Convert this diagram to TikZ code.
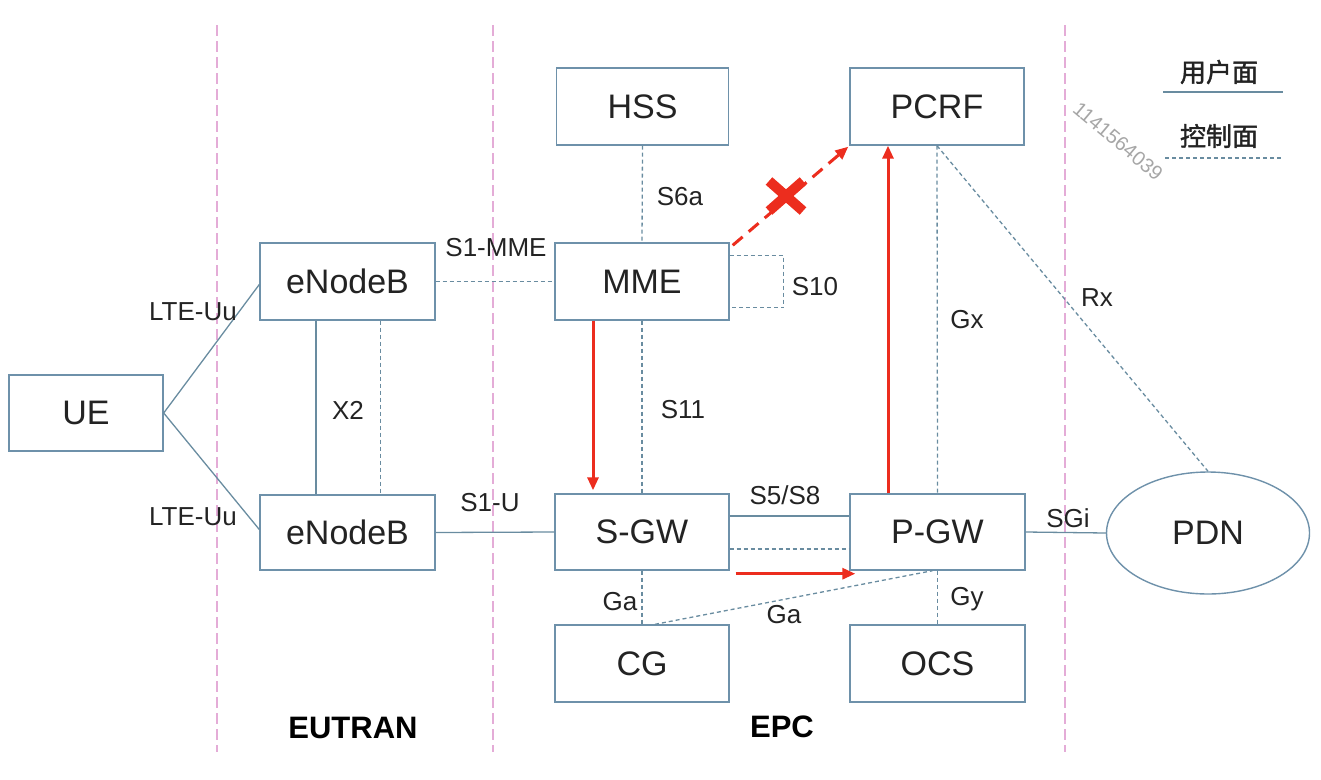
\documentclass[tikz,border=0pt]{standalone}
\usepackage{fontspec}
\setmainfont{Liberation Sans}
\newfontfamily\cjk{Noto Sans CJK SC}[FakeBold=1.5]
\usetikzlibrary{arrows.meta,shapes.geometric}
\definecolor{boxc}{RGB}{110,145,170}
\definecolor{linec}{RGB}{105,140,160}
\definecolor{txtc}{RGB}{35,35,35}
\definecolor{pinkc}{RGB}{228,172,215}
\definecolor{redc}{RGB}{236,45,30}
\tikzset{
  box/.style={draw=boxc, line width=1.4pt, fill=white, inner sep=0pt, text=txtc,
    font=\fontsize{34}{40}\selectfont},
  lbl/.style={text=txtc, inner sep=0pt, font=\fontsize{26}{30}\selectfont},
  upl/.style={draw=linec, line width=1.3pt},
  ctrl/.style={draw=linec, line width=1.3pt, dash pattern=on 4pt off 3pt},
  zone/.style={draw=pinkc, line width=2.6pt, dash pattern=on 11pt off 5pt},
  redarr/.style={draw=redc, line width=3pt, -{Triangle[length=13pt,width=11pt]}},
  reddash/.style={redarr, dash pattern=on 13pt off 8pt},
  xmark/.style={draw=redc, line width=10pt},
  title/.style={text=black, inner sep=0pt, font=\bfseries\fontsize{31}{36}\selectfont},
}
\begin{document}
\begin{tikzpicture}[x=1pt,y=-1pt]
\useasboundingbox (0,0) rectangle (1321,779);
% zone separators
\foreach \n/\x in {za/217,zb/493,zc/1065}{
  \coordinate (\n t) at (\x,25);
  \coordinate (\n b) at (\x,752);
  \draw[zone] (\n t) -- (\n b);
}
% watermark
\node[text=black!35, rotate=-40, font=\fontsize{20}{22}\selectfont, inner sep=0pt] (wm) at (1118,141) {1141564039};
% nodes
\node[box, minimum width=154pt, minimum height=76pt] (ue) at (86,413) {UE};
\node[box, minimum width=175pt, minimum height=77pt] (enb1) at (347.5,281.5) {eNodeB};
\node[box, minimum width=175pt, minimum height=75pt] (enb2) at (347.5,532.5) {eNodeB};
\node[box, minimum width=172pt, minimum height=77pt] (hss) at (642.5,106.5) {HSS};
\node[box, minimum width=174pt, minimum height=77pt] (mme) at (642,281.5) {MME};
\node[box, minimum width=174pt, minimum height=76pt] (sgw) at (642,532) {S-GW};
\node[box, minimum width=174pt, minimum height=77pt] (cg) at (642,663.5) {CG};
\node[box, minimum width=174pt, minimum height=77pt] (pcrf) at (937,106.5) {PCRF};
\node[box, minimum width=175pt, minimum height=76pt] (pgw) at (937.5,532) {P-GW};
\node[box, minimum width=175pt, minimum height=77pt] (ocs) at (937.5,663.5) {OCS};
\node[box, ellipse, minimum width=203pt, minimum height=122pt] (pdn) at (1208,533) {PDN};
% connectors
\draw[upl] (ue.east) -- ([yshift=-3pt]enb1.west);
\draw[upl] (ue.east) -- ([yshift=3pt]enb2.west);
\draw[upl] ([xshift=-31.5pt]enb1.south) -- ([xshift=-31.5pt]enb2.north);
\draw[ctrl] ([xshift=33pt]enb1.south) -- ([xshift=33pt]enb2.north);
\draw[ctrl] (enb1.east) -- (mme.west);
\draw[upl] (enb2.east) -- (sgw.west);
\draw[ctrl] (hss.south) -- (mme.north);
\draw[ctrl] (mme.south) -- (sgw.north);
\draw[ctrl] ([yshift=26pt]mme.east) -- ++(54,0) -- ++(0,52) -- ([yshift=-26pt]mme.east);
\draw[upl] ([yshift=16pt]sgw.east) -- ([yshift=16pt]pgw.west);
\draw[ctrl] ([yshift=-17pt]sgw.east) -- ([yshift=-17pt]pgw.west);
\draw[ctrl] (sgw.south) -- (cg.north);
\draw[ctrl] ([xshift=13pt]cg.north) -- ([xshift=-5pt]pgw.south);
\draw[ctrl] (pgw.south) -- (ocs.north);
\draw[ctrl] (pcrf.south) -- (pgw.north);
\draw[ctrl] (pcrf.south) -- (pdn.north);
\draw[upl] (pgw.east) -- (pdn.west);
% red arrows
\draw[redarr] ([xshift=-49pt]mme.south) -- ([shift={(-49pt,3pt)}]sgw.north);
\draw[redarr] ([xshift=-49.5pt]pgw.north) -- ([xshift=-49pt]pcrf.south);
\draw[redarr] ([shift={(6pt,-3pt)}]sgw.south east) -- ([shift={(6pt,-3pt)}]pgw.south west);
\draw[reddash] ([shift={(3pt,-3pt)}]mme.north east) -- ([shift={(-1pt,-1pt)}]pcrf.south west);
\coordinate (xm) at (786,196);
\draw[xmark] ([shift={(-17pt,15pt)}]xm) -- ([shift={(17pt,-15pt)}]xm);
\draw[xmark] ([shift={(-17pt,-15pt)}]xm) -- ([shift={(17pt,15pt)}]xm);
% labels
\node[lbl] (l1) at (193,312) {LTE-Uu};
\node[lbl] (l2) at (193,517) {LTE-Uu};
\node[lbl] (lx2) at (348,410) {X2};
\node[lbl] (ls1m) at (496,248) {S1-MME};
\node[lbl] (ls1u) at (490,503) {S1-U};
\node[lbl] (ls6a) at (680,197) {S6a};
\node[lbl] (ls11) at (683,410) {S11};
\node[lbl] (ls10) at (815,287) {S10};
\node[lbl] (ls58) at (785,495) {S5/S8};
\node[lbl] (lga1) at (620,602) {Ga};
\node[lbl] (lga2) at (784,615) {Ga};
\node[lbl] (lgy) at (967,599) {Gy};
\node[lbl] (lgx) at (967,320) {Gx};
\node[lbl] (lrx) at (1097,298) {Rx};
\node[lbl] (lsgi) at (1068,518) {SGi};
% titles
\node[title] (eutran) at (353,728) {EUTRAN};
\node[title] (epc) at (782,727) {EPC};
% legend
\node[text=txtc, inner sep=0pt, font=\cjk\fontsize{26}{30}\selectfont] (lg1) at (1219,72) {用户面};
\node[text=txtc, inner sep=0pt, font=\cjk\fontsize{26}{30}\selectfont] (lg2) at (1219,136) {控制面};
\coordinate (lu1) at (1163,92);
\coordinate (lu2) at (1283,92);
\coordinate (lc1) at (1165,158);
\coordinate (lc2) at (1283,158);
\draw[upl] (lu1) -- (lu2);
\draw[ctrl] (lc1) -- (lc2);
\end{tikzpicture}
\end{document}
